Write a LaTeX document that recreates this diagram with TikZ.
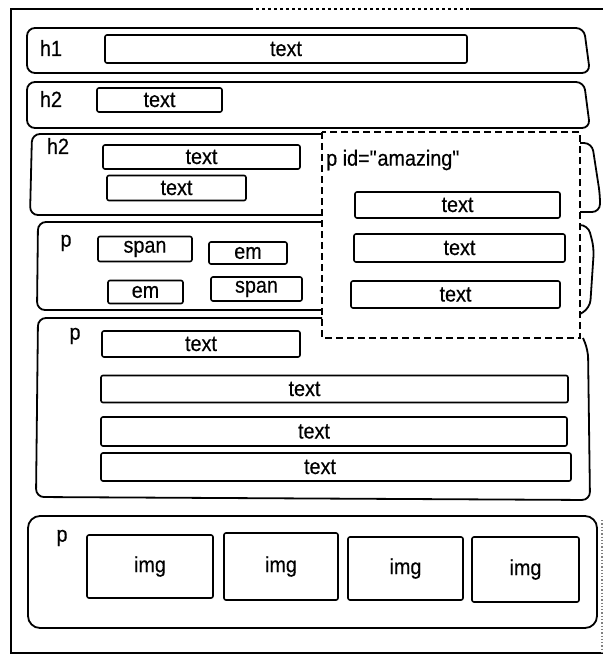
\documentclass[tikz,border=0pt]{standalone}
\usepackage{fontspec}
\setmainfont[FakeStretch=0.9,FakeBold=0.4]{Liberation Sans}
\begin{document}
\begin{tikzpicture}[x=1pt,y=-1pt,
  frameline/.style={line width=1.3pt},
  rowline/.style={line width=1.8pt, rounded corners=8pt},
  dashline/.style={line width=2pt, dash pattern=on 7pt off 4pt},
  tb/.style={draw, line width=1.6pt, rounded corners=2pt, inner sep=0pt, font=\fontsize{22}{24}\selectfont},
  lbl/.style={inner sep=0pt, font=\fontsize{22}{24}\selectfont}]
\useasboundingbox (0,0) rectangle (603,655);
% outer frame
\coordinate (fa) at (11,9);
\coordinate (fb) at (250,9);
\coordinate (fc) at (470,9);
\coordinate (fd) at (603,9);
\coordinate (fe) at (11,653);
\coordinate (ff) at (603,653);
\draw[frameline] (ff) -- (fe) -- (fa) -- (fb);
\draw[frameline, dash pattern=on 3pt off 3pt] (fb) -- (fc);
\draw[frameline] (fc) -- (fd);
\draw[frameline, gray, dotted] (602,520) -- (602,653);
% h1 row
\draw[rowline] (27,28) -- (584,28) -- (590,73) -- (27,73) -- cycle;
\node[lbl] (lh1) at (51,48) {h1};
\node[tb, minimum width=362pt, minimum height=28pt] (t1) at (286,49) {text};
% h2 row
\draw[rowline] (27,82) -- (584,82) -- (590,128) -- (27,128) -- cycle;
\node[lbl] (lh2) at (51,99) {h2};
\node[tb, minimum width=125pt, minimum height=24pt] (t2) at (159.5,100) {text};
% h2 row (split)
\draw[rowline] (322,134) -- (32,134) -- (30,215) -- (322,215);
\draw[rowline] (580,143) -- (592,143) -- (600,195) -- (600,212) -- (580,212);
\node[lbl] (lh2b) at (58,146) {h2};
\node[tb, minimum width=197pt, minimum height=24pt] (t3) at (201.5,157) {text};
\node[tb, minimum width=139pt, minimum height=25pt] (t4) at (176.5,188) {text};
% p row with spans
\draw[rowline] (322,222) -- (38,222) -- (37,310) -- (322,310);
\draw[rowline] (580,225) -- (588,225) -- (594,248) -- (590,308) -- (580,314);
\node[lbl] (lp1) at (66,243) {p};
\node[tb, minimum width=94pt, minimum height=25pt] (s1) at (145,249) {span};
\node[tb, minimum width=78pt, minimum height=22pt] (e1) at (248,253) {em};
\node[tb, minimum width=75pt, minimum height=23pt] (e2) at (145.5,292) {em};
\node[tb, minimum width=91pt, minimum height=24pt] (s2) at (256.5,289) {span};
% big p row
\draw[rowline] (322,318) -- (38,318) -- (36,497) -- (590,500) -- (588,350) -- (583,338);
\node[lbl] (lp2) at (75,336) {p};
\node[tb, minimum width=198pt, minimum height=26pt] (b1) at (201,344) {text};
\node[tb, minimum width=467pt, minimum height=27pt, label={[xshift=-30pt]center:{\fontsize{22}{24}\selectfont text}}] (b2) at (334.5,389) {};
\node[tb, minimum width=466pt, minimum height=29pt, label={[xshift=-20pt]center:{\fontsize{22}{24}\selectfont text}}] (b3) at (334,431.5) {};
\node[tb, minimum width=470pt, minimum height=28pt, label={[xshift=-16pt]center:{\fontsize{22}{24}\selectfont text}}] (b4) at (336,467) {};
% dashed p id="amazing"
\draw[dashline] (322,132) rectangle (580,338);
\node[lbl, anchor=west] (lpid) at (326,160) {p id=\textquotedbl amazing\textquotedbl};
\node[tb, minimum width=205pt, minimum height=26pt] (a1) at (457.5,205) {text};
\node[tb, minimum width=211pt, minimum height=28pt] (a2) at (459.5,248) {text};
\node[tb, minimum width=209pt, minimum height=27pt] (a3) at (455.5,294.5) {text};
% img row
\draw[rowline, rounded corners=12pt] (28,516) rectangle (597,628);
\node[lbl] (lp3) at (62,538) {p};
\node[tb, minimum width=126pt, minimum height=63pt] (i1) at (150,566.5) {img};
\node[tb, minimum width=114pt, minimum height=67pt] (i2) at (281,566.5) {img};
\node[tb, minimum width=115pt, minimum height=63pt] (i3) at (405.5,568.5) {img};
\node[tb, minimum width=107pt, minimum height=65pt] (i4) at (525.5,569.5) {img};
\end{tikzpicture}
\end{document}
